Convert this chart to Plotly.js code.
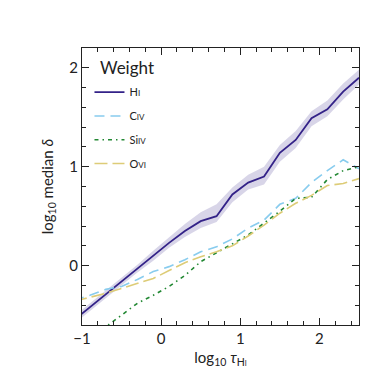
<!DOCTYPE html>
<html>
<head>
<meta charset="utf-8">
<script src="https://cdn.plot.ly/plotly-3.0.1.min.js"></script>
<style>
  html, body { margin: 0; padding: 0; background: #fff; }
  #chart { width: 374px; height: 374px; }
</style>
</head>
<body>
<div id="chart"></div>
<script>
// log10 tau_HI bin centres
const tauBins = [-1.1, -0.9, -0.7, -0.5, -0.3, -0.1, 0.1, 0.3, 0.5, 0.7, 0.9, 1.1, 1.3, 1.5, 1.7, 1.9, 2.1, 2.3, 2.5];

// log10 median delta for each weighting
const deltaHI   = [-0.55, -0.42, -0.29, -0.16, -0.03, 0.10, 0.23, 0.35, 0.45, 0.50, 0.72, 0.84, 0.90, 1.14, 1.27, 1.49, 1.58, 1.76, 1.90];
const hiLower   = [-0.59, -0.46, -0.33, -0.20, -0.07, 0.05, 0.18, 0.29, 0.38, 0.44, 0.64, 0.77, 0.82, 1.05, 1.19, 1.41, 1.51, 1.68, 1.83];
const hiUpper   = [-0.51, -0.38, -0.25, -0.12, 0.01, 0.15, 0.29, 0.42, 0.54, 0.62, 0.79, 0.92, 1.00, 1.22, 1.36, 1.56, 1.67, 1.84, 1.98];
const deltaCIV  = [-0.35, -0.30, -0.24, -0.21, -0.14, -0.06, -0.01, 0.06, 0.14, 0.19, 0.27, 0.38, 0.46, 0.62, 0.68, 0.84, 0.96, 1.07, 0.98];
const deltaSiIV = [-0.95, -0.79, -0.62, -0.50, -0.38, -0.30, -0.21, -0.10, 0.04, 0.13, 0.22, 0.31, 0.43, 0.55, 0.68, 0.69, 0.87, 0.96, 1.00];
const deltaOVI  = [-0.36, -0.32, -0.28, -0.23, -0.18, -0.13, -0.05, 0.03, 0.09, 0.14, 0.20, 0.30, 0.41, 0.53, 0.63, 0.71, 0.81, 0.83, 0.88];

const ionNames = [
    'H<span style="font-size:8px">I</span>',
    'C<span style="font-size:8px">IV</span>',
    'Si<span style="font-size:8px">IV</span>',
    'O<span style="font-size:8px">VI</span>'
];

const FONT = 'Lato, "Open Sans", sans-serif';

// shaded band around the HI curve
const bandLow = {
    x: tauBins, y: hiLower, mode: 'lines',
    line: { width: 0, color: 'rgba(0,0,0,0)' },
    showlegend: false, hoverinfo: 'skip'
};
const bandHigh = {
    x: tauBins, y: hiUpper, mode: 'lines',
    line: { width: 0, color: 'rgba(0,0,0,0)' },
    fill: 'tonexty', fillcolor: 'rgba(60,45,140,0.2)',
    showlegend: false, hoverinfo: 'skip'
};

const traceHI = {
    x: tauBins, y: deltaHI, mode: 'lines', name: ionNames[0], legendgroup: 'a',
    line: { color: '#332288', width: 1.8 }
};
const traceCIV = {
    x: tauBins, y: deltaCIV, mode: 'lines', name: ionNames[1], legendgroup: 'b',
    line: { color: '#88ccee', width: 1.6, dash: '10px,6px' }
};
const traceSiIV = {
    x: tauBins, y: deltaSiIV, mode: 'lines', name: ionNames[2], legendgroup: 'c',
    line: { color: '#228833', width: 1.6, dash: '4px,4px,1.5px,4px' }
};
const traceOVI = {
    x: tauBins, y: deltaOVI, mode: 'lines', name: ionNames[3], legendgroup: 'd',
    line: { color: '#ddcc77', width: 1.6, dash: '13px,5px' }
};

const axisCommon = {
    showgrid: false, zeroline: false,
    showline: true, mirror: 'allticks', linecolor: '#222', linewidth: 1,
    ticks: 'inside', ticklen: 7, tickwidth: 1, tickcolor: '#222',
    tickfont: { family: FONT, size: 15, color: '#222' },
    minor: { ticks: 'inside', ticklen: 4, tickwidth: 1, tickcolor: '#222', dtick: 0.2 }
};

const layout = {
    width: 374, height: 374,
    margin: { l: 82, r: 15, t: 48, b: 49 },
    paper_bgcolor: '#fff', plot_bgcolor: '#fff',
    font: { family: FONT, color: '#222' },
    xaxis: Object.assign({}, axisCommon, {
        range: [-1, 2.5], dtick: 1, tick0: 0,
        title: { text: 'log<sub>10</sub> <i>τ</i><sub>H<span style="font-size:7px">I</span></sub>',
                 font: { family: FONT, size: 15, color: '#222' }, standoff: 6 }
    }),
    yaxis: Object.assign({}, axisCommon, {
        range: [-0.6, 2.2], dtick: 1, tick0: 0,
        title: { text: 'log<sub>10</sub> median <i>δ</i>',
                 font: { family: FONT, size: 15, color: '#222' }, standoff: 12 }
    }),
    // legend heading, kept as its own text so the gap below it matches
    annotations: [{
        text: 'Weight', xref: 'paper', yref: 'paper',
        x: 0.057, y: 0.93, xanchor: 'left', yanchor: 'middle', showarrow: false,
        font: { family: FONT, size: 17, color: '#222' }
    }],
    legend: {
        x: 0.027, y: 0.893, xanchor: 'left', yanchor: 'top',
        bgcolor: 'rgba(0,0,0,0)',
        font: { family: FONT, size: 11, color: '#222' },
        tracegroupgap: 4.8
    },
    showlegend: true
};

Plotly.newPlot('chart', [bandLow, bandHigh, traceHI, traceCIV, traceSiIV, traceOVI], layout, { displayModeBar: false, staticPlot: true });
</script>
</body>
</html>
